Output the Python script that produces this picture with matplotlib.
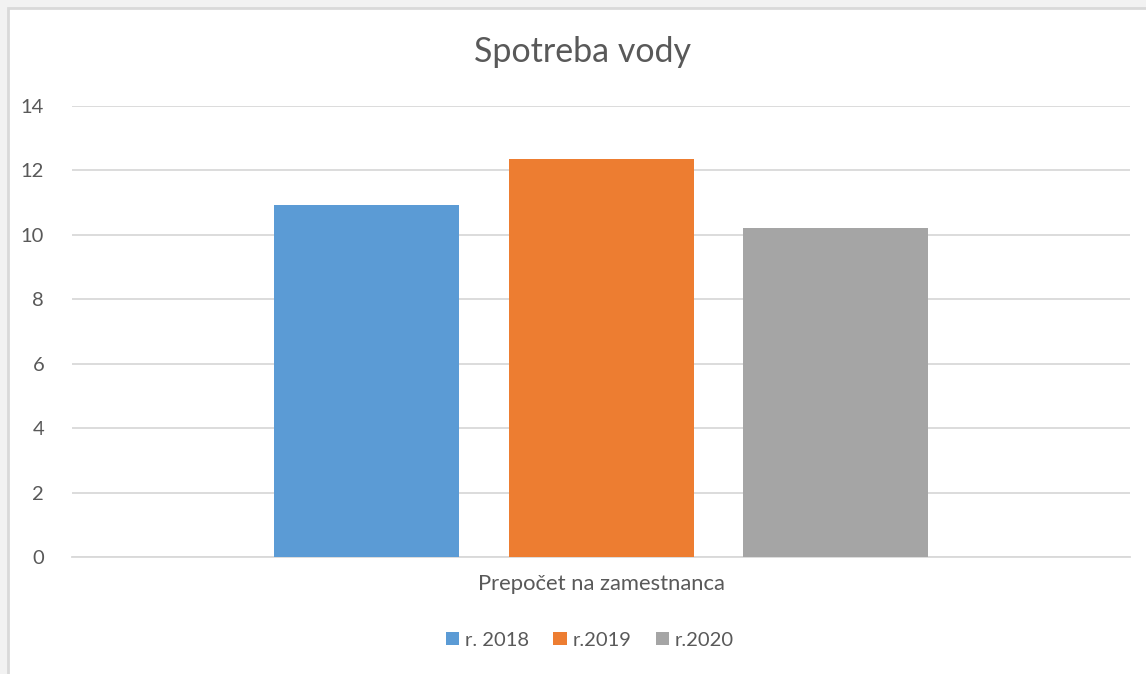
import numpy as np
import matplotlib.pyplot as plt
from matplotlib.patches import Rectangle

plt.rcParams['font.family'] = ['Lato', 'DejaVu Sans']

category = 'Prepočet na zamestnanca'
series = ['r. 2018', 'r.2019', 'r.2020']
values = [10.93, 12.36, 10.21]
colors = ['#5b9bd5', '#ed7d31', '#a5a5a5']

fig = plt.figure(figsize=(11.46, 6.74), dpi=100)
fig.patch.set_facecolor('#f2f2f2')
# white chart area with thin gray border (runs off the right/bottom edge)
fig.patches.append(Rectangle((8 / 1146, -0.01), 1.02, (674 - 8) / 674 + 0.01,
                             transform=fig.transFigure, facecolor='white',
                             edgecolor='#d9d9d9', linewidth=2, zorder=-1))

ax = fig.add_axes([72 / 1146, 117 / 674, (1130 - 72) / 1146, 451 / 674])
ax.set_facecolor('none')
ax.set_zorder(2)

width = 185 / 1058
step = 234.5 / 1058
offsets = (np.arange(len(series)) - 1) * step
for off, v, c, s in zip(offsets, values, colors, series):
    ax.bar(off, v, width=width, color=c, label=s, zorder=3)

ax.set_xlim(-0.5, 0.5)
ax.set_ylim(0, 14)
ax.set_yticks(np.arange(0, 15, 2))
ax.yaxis.grid(True, color='#d9d9d9', linewidth=1.3, zorder=0)
ax.set_axisbelow(True)
ax.set_xticks([0])
ax.set_xticklabels([category])
ax.tick_params(axis='both', length=0, labelsize=14.5, colors='#595959')
ax.tick_params(axis='y', pad=20)
ax.tick_params(axis='x', pad=12, labelsize=15.8)
for sp in ['top', 'right', 'left']:
    ax.spines[sp].set_visible(False)
ax.spines['bottom'].set_color('#d9d9d9')
ax.spines['bottom'].set_linewidth(1.3)

fig.text(583 / 1146, 1 - 52 / 674, 'Spotreba vody', ha='center', va='center',
         fontsize=24.5, color='#595959')

leg = fig.legend(loc='center', bbox_to_anchor=(590 / 1146, 1 - 640 / 674),
                 ncol=3, frameon=False, fontsize=14.5, handlelength=0.65,
                 handleheight=0.65, handletextpad=0.3, columnspacing=1.2)
for t in leg.get_texts():
    t.set_color('#595959')

fig.savefig('out.png', dpi=100, facecolor=fig.get_facecolor())
